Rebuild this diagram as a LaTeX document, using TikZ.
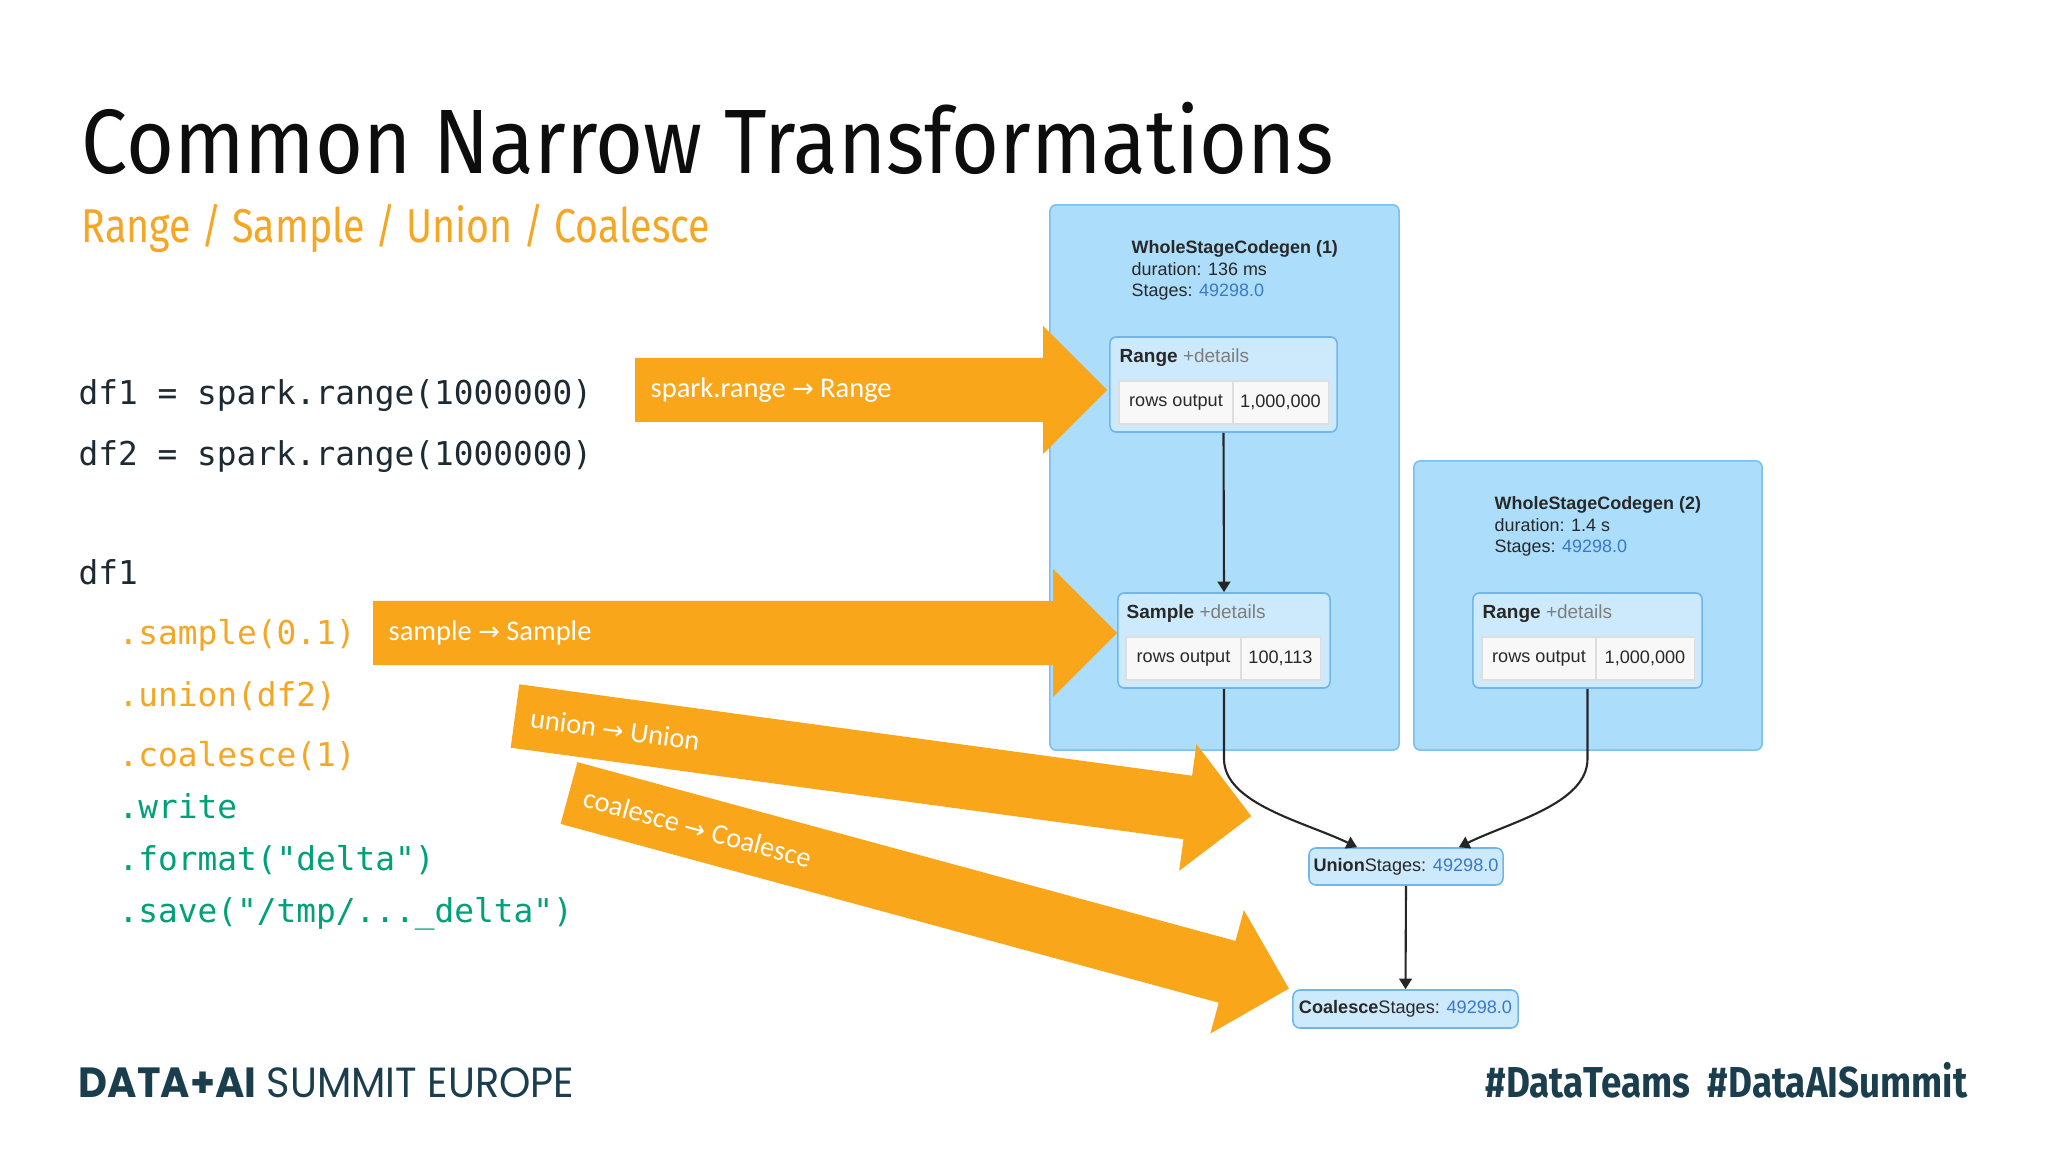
\documentclass[tikz,border=0pt]{standalone}
\usepackage{fontspec}
\setmainfont{Liberation Sans}
\newfontfamily\titlefont{Fira Sans}
\newfontfamily\codefont{DejaVu Sans Mono}
\newfontfamily\calloutfont{Carlito}
\newfontfamily\footfont{Poppins}
\newfontfamily\symfont{DejaVu Sans}
\usetikzlibrary{arrows.meta,calc}
\definecolor{orangeA}{RGB}{249,166,26}
\definecolor{codeorange}{RGB}{245,166,35}
\definecolor{codegreen}{RGB}{0,160,120}
\definecolor{codedark}{RGB}{30,42,50}
\definecolor{outerfill}{RGB}{172,221,250}
\definecolor{outerdraw}{RGB}{125,192,238}
\definecolor{innerfill}{RGB}{204,234,252}
\definecolor{innerdraw}{RGB}{112,182,236}
\definecolor{cellfill}{RGB}{248,248,248}
\definecolor{celldraw}{RGB}{222,222,222}
\definecolor{numblue}{RGB}{60,120,200}
\definecolor{uitext}{RGB}{40,40,40}
\definecolor{detailgray}{RGB}{125,125,125}
\definecolor{footcol}{RGB}{27,62,78}
\newcommand{\fatarrow}[5]{%
  \begin{scope}[shift={#2}, rotate=#3]
    \fill[orangeA] (0,-32) -- (#4-64,-32) -- (#4-64,-64) -- (#4,0) -- (#4-64,64) -- (#4-64,32) -- (0,32) -- cycle;
    \node[callout, anchor=west, rotate=#3] (#1) at (15,0) {#5};
  \end{scope}}
\newcommand{\sym}{{\symfont\fontsize{7.3}{9}\selectfont →}}
\begin{document}
\begin{tikzpicture}[x=0.01cm,y=-0.01cm,
  outerbox/.style={draw=outerdraw, fill=outerfill, line width=0.45pt, rounded corners=1.8pt, inner sep=0pt},
  innerbox/.style={draw=innerdraw, fill=innerfill, line width=0.45pt, rounded corners=1.8pt, inner sep=0pt, minimum height=0.95cm},
  cell/.style={draw=celldraw, fill=cellfill, line width=0.3pt, inner sep=0pt, minimum height=0.43cm, font=\fontsize{5.15}{6}\selectfont, text=uitext},
  opnode/.style={draw=innerdraw, fill=innerfill, line width=0.45pt, rounded corners=2pt, inner sep=0pt, font=\fontsize{5.15}{6}\selectfont, text=uitext},
  header/.style={anchor=base west, inner sep=0pt, font=\fontsize{5.4}{6}\selectfont, text=uitext},
  stagetext/.style={anchor=north west, align=left, inner sep=0pt, font=\fontsize{5.1}{6.1}\selectfont, text=uitext},
  edge/.style={draw=black!85, line width=0.6pt, -{Triangle[width=3.6pt,length=3pt]}},
  callout/.style={font=\calloutfont\fontsize{8.1}{10}\selectfont, text=white, inner sep=0pt},
  codeline/.style={anchor=base west, inner sep=0pt, font=\codefont\fontsize{9.33}{11}\selectfont}]
\useasboundingbox (0,0) rectangle (2048,1152);
\fill[white] (0,0) rectangle (2048,1152);

% title
\node[anchor=base west, inner sep=0pt, text=black!95] (title) at (81,174)
  {\scalebox{0.9}[1]{\titlefont\fontsize{26}{30}\selectfont Common Narrow Transformations}};
\node[anchor=base west, inner sep=0pt, text=codeorange] (subtitle) at (81,243)
  {\scalebox{0.83}[1]{\titlefont\fontsize{13.5}{16}\selectfont Range / Sample / Union / Coalesce}};

% code
\node[codeline, text=codedark] (c1) at (78,405) {df1 = spark.range(1000000)};
\node[codeline, text=codedark] (c2) at (78,466) {df2 = spark.range(1000000)};
\node[codeline, text=codedark] (c3) at (78,584) {df1};
\node[codeline, text=codeorange] (c4) at (118,645) {.sample(0.1)};
\node[codeline, text=codeorange] (c5) at (118,706) {.union(df2)};
\node[codeline, text=codeorange] (c6) at (118,766) {.coalesce(1)};
\node[codeline, text=codegreen] (c7) at (118,818) {.write};
\node[codeline, text=codegreen] (c8) at (118,870) {.format("delta")};
\node[codeline, text=codegreen] (c9) at (118,922) {.save("/tmp/...\_delta")};

% outer stage boxes
\node[outerbox, minimum width=3.49cm, minimum height=5.45cm] (wsc1) at (1224.5,477.5) {};
\node[outerbox, minimum width=3.48cm, minimum height=2.89cm] (wsc2) at (1588,605.5) {};
\node[stagetext] (wsc1t) at (1131,240) {\textbf{WholeStageCodegen (1)}\\duration: 136 ms\\Stages: \textcolor{numblue}{49298.0}};
\node[stagetext] (wsc2t) at (1494,496) {\textbf{WholeStageCodegen (2)}\\duration: 1.4 s\\Stages: \textcolor{numblue}{49298.0}};

% orange arrows
\fatarrow{a1}{(635,390)}{0}{472}{spark.range \sym{} Range}
\fatarrow{a2}{(373,633)}{0}{744}{sample \sym{} Sample}
\fatarrow{a3}{(515,716)}{-7.74}{743}{union \sym{} Union}
\fatarrow{a4}{(569,793)}{-15.2}{746}{coalesce \sym{} Coalesce}

% inner operator boxes
\node[innerbox, minimum width=2.27cm] (range1) at (1223.5,384.5) {};
\node[header] (range1h) at (1119,363) {\textbf{Range} \textcolor{detailgray}{+details}};
\node[cell, minimum width=1.14cm] (range1a) at (1176,402.5) {rows output};
\node[cell, minimum width=0.95cm] (range1b) at (1280.5,402.5) {1,000,000};

\node[innerbox, minimum width=2.12cm] (sample) at (1224,640.5) {};
\node[header] (sampleh) at (1126,619) {\textbf{Sample} \textcolor{detailgray}{+details}};
\node[cell, minimum width=1.15cm] (samplea) at (1183.5,658.5) {rows output};
\node[cell, minimum width=0.79cm] (sampleb) at (1280.5,658.5) {100,113};

\node[innerbox, minimum width=2.29cm] (range2) at (1587.5,640.5) {};
\node[header] (range2h) at (1482,619) {\textbf{Range} \textcolor{detailgray}{+details}};
\node[cell, minimum width=1.14cm] (range2a) at (1539,658.5) {rows output};
\node[cell, minimum width=0.98cm] (range2b) at (1645,658.5) {1,000,000};

\node[opnode, minimum width=1.94cm, minimum height=0.37cm] (union) at (1406,866.5) {\textbf{Union}Stages: \textcolor{numblue}{49298.0}};
\node[opnode, minimum width=2.25cm, minimum height=0.38cm] (coalesce) at (1405.5,1009) {\textbf{Coalesce}Stages: \textcolor{numblue}{49298.0}};

\coordinate (u1) at ($(union.north west)!0.25!(union.north east)$);
\coordinate (u2) at ($(union.north west)!0.77!(union.north east)$);

% edges
\draw[edge] (range1.south) -- (sample.north);
\draw[edge] (sample.south) -- ++(0,70) .. controls ++(0,45) and (1305,822) .. (u1);
\draw[edge] (range2.south) -- ++(0,70) .. controls ++(0,45) and (1510,822) .. (u2);
\draw[edge] (union.south) -- (coalesce.north);

% footer
\node[anchor=base west, inner sep=0pt, text=footcol] (footl) at (78,1097)
  {\scalebox{0.945}[1]{\footfont\fontsize{12}{14}\selectfont\bfseries DATA+AI\mdseries{} SUMMIT EUROPE}};
\node[anchor=base east, inner sep=0pt, text=footcol] (footr) at (1968,1097)
  {\scalebox{0.85}[1]{\titlefont\fontsize{12.3}{14}\selectfont\bfseries \#DataTeams\ \ \#DataAISummit}};
\end{tikzpicture}
\end{document}
